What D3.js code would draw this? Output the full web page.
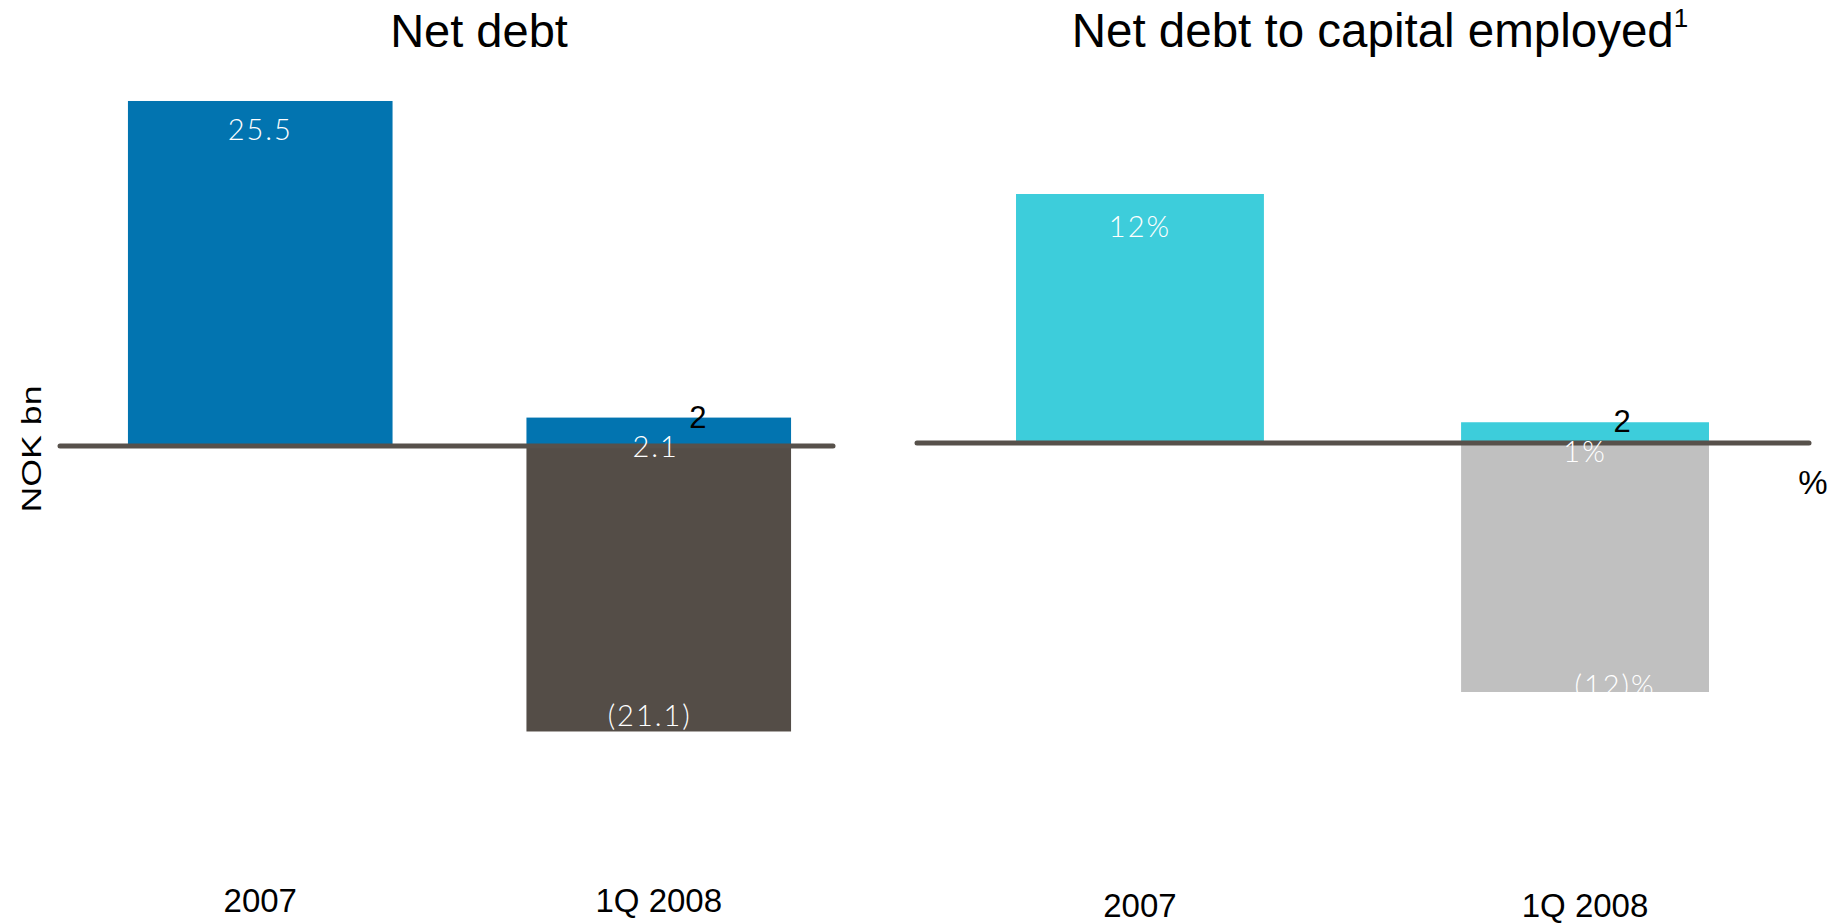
<!DOCTYPE html>
<html>
<head>
<meta charset="utf-8">
<script src="https://cdn.jsdelivr.net/npm/d3@7"></script>
<style>
  html, body { margin: 0; padding: 0; background: #ffffff; }
  svg { display: block; }
</style>
</head>
<body>
<svg id="chart" width="1845" height="923"></svg>
<script>
// Periods shown on both panels
const categories = ["2007", "1Q 2008"];

// Net debt, NOK bn
const netDebt = [25.5, 2.1];
const netDebtAdjusted = [null, -21.1];
const netDebtLabels = ["25.5", "2.1"];
const netDebtAdjustedLabels = [null, "(21.1)"];

// Net debt to capital employed, %
const debtRatio = [12, 1];
const debtRatioAdjusted = [null, -12];
const debtRatioLabels = ["12%", "1%"];
const debtRatioAdjustedLabels = [null, "(12)%"];

// Footnote marker placed on the 1Q 2008 bars
const footnoteMarker = "2";

const titles = ["Net debt", "Net debt to capital employed"];
const titleSuperscript = "1";
const leftUnit = "NOK bn";
const rightUnit = "%";

const svg = d3.select("#chart");
const sans = "'Liberation Sans', Arial, Helvetica, sans-serif";
const labelFont = "Lato, 'Open Sans', sans-serif";

const colors = {
  netDebt: "#0274b0",
  netDebtAdj: "#544d47",
  ratio: "#3dcddb",
  ratioAdj: "#c0c0c0",
  baseline: "#57514b"
};

function panel(cfg) {
  const g = svg.append("g");
  const x = d3.scaleBand().domain(categories)
    .range(cfg.xRange).paddingInner(cfg.padInner).paddingOuter(cfg.padOuter);
  const y = d3.scaleLinear().domain([-30, 30])
    .range([cfg.zero + 30 * cfg.k, cfg.zero - 30 * cfg.k]);

  const main = categories.map((c, i) => ({ c, v: cfg.values[i], lab: cfg.labels[i] }));
  const adj = categories.map((c, i) => ({ c, v: cfg.adjValues[i], lab: cfg.adjLabels[i] }))
    .filter(d => d.v !== null);

  // Positive bars
  g.selectAll("rect.main").data(main).join("rect")
    .attr("class", "main")
    .attr("x", d => x(d.c)).attr("width", x.bandwidth())
    .attr("y", d => y(Math.max(0, d.v)))
    .attr("height", d => Math.abs(y(d.v) - y(0)))
    .attr("fill", cfg.color);

  // Negative (adjusted) bars
  g.selectAll("rect.adj").data(adj).join("rect")
    .attr("class", "adj")
    .attr("x", d => x(d.c)).attr("width", x.bandwidth())
    .attr("y", y(0))
    .attr("height", d => y(d.v) - y(0))
    .attr("fill", cfg.adjColor);

  // Zero line
  g.append("line")
    .attr("x1", cfg.lineX[0]).attr("x2", cfg.lineX[1])
    .attr("y1", y(0)).attr("y2", y(0))
    .attr("stroke", colors.baseline).attr("stroke-width", 5)
    .attr("stroke-linecap", "round");

  // Value labels
  g.selectAll("text.val").data(main).join("text")
    .attr("class", "val")
    .attr("x", (d, i) => x(d.c) + x.bandwidth() / 2 + cfg.labelDx[i])
    .attr("y", (d, i) => i === 0 ? y(d.v) + cfg.topLabelDy : y(0) + cfg.smallLabelDy)
    .attr("text-anchor", "middle")
    .attr("fill", "#ffffff")
    .style("font-family", labelFont)
    .style("font-weight", 300)
    .style("font-size", "29px")
    .style("letter-spacing", "2px")
    .text(d => d.lab);

  // Labels of the negative bars, clipped at the bar's lower edge
  const clipId = "clip-" + cfg.id;
  g.append("clipPath").attr("id", clipId)
    .selectAll("rect").data(adj).join("rect")
    .attr("x", d => x(d.c)).attr("width", x.bandwidth())
    .attr("y", y(0)).attr("height", d => y(d.v) - y(0));

  g.append("g").attr("clip-path", `url(#${clipId})`)
    .selectAll("text.adjval").data(adj).join("text")
    .attr("class", "adjval")
    .attr("x", d => x(d.c) + x.bandwidth() / 2 + cfg.adjLabelDx)
    .attr("y", d => y(d.v) - cfg.adjLabelUp)
    .attr("text-anchor", "middle")
    .attr("fill", "#ffffff")
    .style("font-family", labelFont)
    .style("font-weight", 300)
    .style("font-size", "29px")
    .style("letter-spacing", "2px")
    .text(d => d.lab);

  // Footnote marker
  g.append("text")
    .attr("x", x(categories[1]) + x.bandwidth() / 2 + cfg.markerDx)
    .attr("y", y(cfg.values[1]) + 10)
    .attr("text-anchor", "middle")
    .attr("fill", "#000000")
    .style("font-family", sans)
    .style("font-size", "31px")
    .text(footnoteMarker);

  // Category labels
  g.selectAll("text.cat").data(categories).join("text")
    .attr("class", "cat")
    .attr("x", d => x(d) + x.bandwidth() / 2)
    .attr("y", cfg.catY)
    .attr("text-anchor", "middle")
    .attr("fill", "#000000")
    .style("font-family", sans)
    .style("font-size", "33px")
    .text(d => d);

  // Title
  const t = g.append("text")
    .attr("x", cfg.titleX).attr("y", 47)
    .attr("text-anchor", "middle")
    .attr("fill", "#000000")
    .style("font-family", sans)
    .style("font-size", cfg.titleSize + "px")
    .text(cfg.title);
  if (cfg.sup) {
    t.append("tspan")
      .attr("dy", -20)
      .style("font-size", "26px")
      .text(cfg.sup);
  }
  return { g, x, y };
}

panel({
  id: "left",
  xRange: [60.2, 858.8], padInner: 0.336, padOuter: 0.17,
  zero: 446, k: 13.53,
  values: netDebt, adjValues: netDebtAdjusted,
  labels: netDebtLabels, adjLabels: netDebtAdjustedLabels,
  color: colors.netDebt, adjColor: colors.netDebtAdj,
  lineX: [60, 833],
  labelDx: [0, -3], topLabelDy: 39, smallLabelDy: 11,
  adjLabelDx: -9, adjLabelUp: 5,
  markerDx: 39,
  catY: 912,
  titleX: 479, titleSize: 47, title: titles[0]
});

panel({
  id: "right",
  xRange: [927, 1798], padInner: 0.443, padOuter: 0.2,
  zero: 443, k: 20.75,
  values: debtRatio, adjValues: debtRatioAdjusted,
  labels: debtRatioLabels, adjLabels: debtRatioAdjustedLabels,
  color: colors.ratio, adjColor: colors.ratioAdj,
  lineX: [917, 1809],
  labelDx: [0, 0], topLabelDy: 43, smallLabelDy: 19,
  adjLabelDx: 30, adjLabelUp: -4,
  markerDx: 37,
  catY: 917,
  titleX: 1380, titleSize: 47.5, title: titles[1], sup: titleSuperscript
});

// Unit labels
svg.append("text")
  .attr("transform", "translate(41,449) rotate(-90)")
  .attr("text-anchor", "middle")
  .attr("fill", "#000000")
  .attr("textLength", 127)
  .attr("lengthAdjust", "spacingAndGlyphs")
  .style("font-family", sans)
  .style("font-size", "27px")
  .text(leftUnit);

svg.append("text")
  .attr("x", 1813).attr("y", 494)
  .attr("text-anchor", "middle")
  .attr("fill", "#000000")
  .style("font-family", sans)
  .style("font-size", "33px")
  .text(rightUnit);
</script>
</body>
</html>
